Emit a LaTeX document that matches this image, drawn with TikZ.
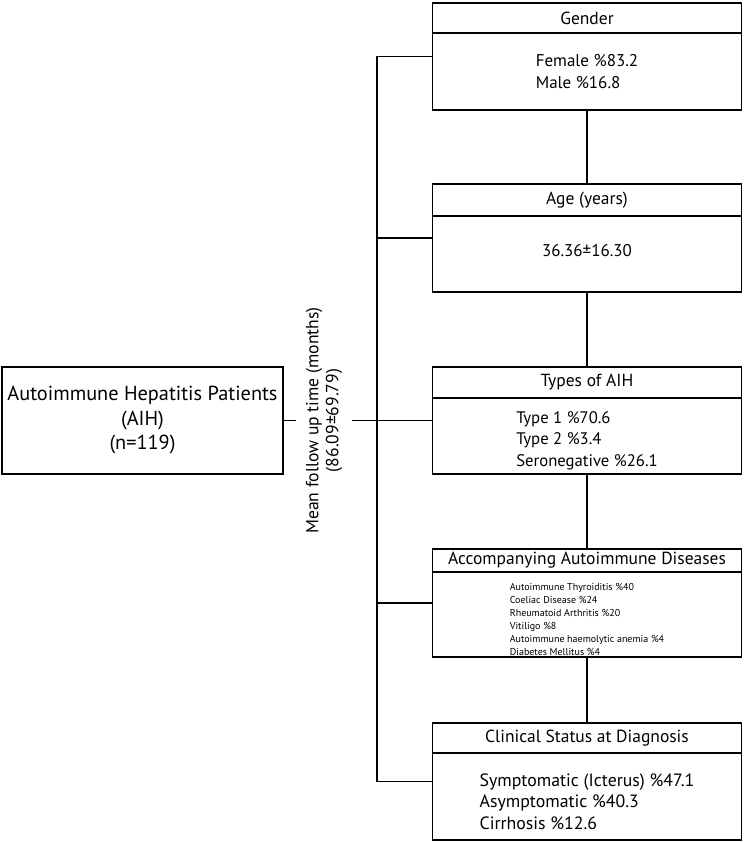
\documentclass[tikz,border=0pt]{standalone}
\usepackage{fontspec}
\setmainfont{PT Sans}
\usetikzlibrary{calc, positioning}
\tikzstyle{head} = [rectangle, minimum width=309pt, minimum height=30pt, inner sep=0pt, outer sep=0pt, text centered, draw=black, line width=1.5pt, font=\fontsize{17.5}{21}\selectfont]
\tikzstyle{body} = [rectangle, minimum width=309pt, inner sep=0pt, outer sep=0pt, align=left, draw=black, line width=1.5pt, font=\fontsize{17}{22}\selectfont]
\tikzstyle{patients} = [rectangle, minimum width=281pt, minimum height=107pt, align=center, draw=black, line width=1.5pt, outer sep=0pt, font=\fontsize{20.3}{24.5}\selectfont]
\tikzstyle{line} = [draw, line width=1.5pt]

\begin{document}
\begin{tikzpicture}[x=1pt, y=-1pt]
  \useasboundingbox (0,0) rectangle (744,842);

  \node (aih) [patients] at (142.5,420.5) {Autoimmune Hepatitis Patients\\(AIH)\\(n=119)};
  \node (follow) [rotate=90, align=center, inner sep=0pt, minimum height=56pt, font=\fontsize{17.6}{20}\selectfont] at (324,420.5) {Mean follow up time (months)\\(86.09±69.79)};
  \path [line] (aih.east) -- (follow.north);

  \node (gender) [head] at (587,18) {Gender};
  \node (genderbody) [body, minimum height=77pt, below=0pt of gender] {Female \%83.2\\Male \%16.8};

  \node (age) [head, minimum height=32pt] at (587,200) {Age (years)};
  \node (agebody) [body, minimum height=76pt, text depth=7pt, below=0pt of age] {36.36±16.30};
  \path [line] (genderbody) -- (age);

  \node (types) [head, minimum height=31pt] at (587,382.5) {Types of AIH};
  \node (typesbody) [body, minimum height=76pt, font=\fontsize{16.7}{21.5}\selectfont, below=0pt of types] {\rule{0pt}{21pt}Type 1 \%70.6\\Type 2 \%3.4\\Seronegative \%26.1};
  \path [line] (agebody) -- (types);

  \node (accomp) [head, minimum height=23pt] at (587,560.5) {Accompanying Autoimmune Diseases};
  \node (accompbody) [body, minimum height=85pt, font=\fontsize{10}{13}\selectfont, below=0pt of accomp] {\rule{0pt}{17pt}Autoimmune Thyroiditis \%40\\Coeliac Disease \%24\\Rheumatoid Arthritis \%20\\Vitiligo \%8\\Autoimmune haemolytic anemia \%4\\Diabetes Mellitus \%4};
  \path [line] (typesbody) -- (accomp);

  \node (clinical) [head] at (587,738) {Clinical Status at Diagnosis};
  \node (clinicalbody) [body, minimum height=87pt, font=\fontsize{17.8}{21.5}\selectfont, below=0pt of clinical] {\rule{0pt}{23pt}Symptomatic (Icterus) \%47.1\\Asymptomatic \%40.3\\Cirrhosis \%12.6};
  \path [line] (accompbody) -- (clinical);

  % spine and branches
  \coordinate (spinex) at (377,0);
  \coordinate (gendermid) at ($(gender.north west)!0.5!(genderbody.south west)$);
  \coordinate (agemid) at ($(age.north west)!0.5!(agebody.south west)$);
  \coordinate (typesmid) at ($(types.north west)!0.5!(typesbody.south west)$);
  \coordinate (accompmid) at ($(accomp.north west)!0.5!(accompbody.south west)$);
  \coordinate (clinicalmid) at ($(clinical.north west)!0.5!(clinicalbody.south west)$);
  \path [line] (gendermid) -- (gendermid -| spinex) -- (clinicalmid -| spinex) -- (clinicalmid);
  \path [line] (agemid) -- (agemid -| spinex);
  \path [line] (accompmid) -- (accompmid -| spinex);
  \path [line] (follow.south) -- (typesmid);
\end{tikzpicture}
\end{document}
